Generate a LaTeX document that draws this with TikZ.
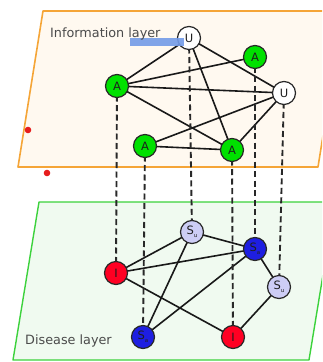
\documentclass[tikz,border=0pt]{standalone}
\usepackage{fontspec}
\setsansfont{DejaVu Sans}
\newfontfamily\layerfont{DejaVu Sans}
\definecolor{infoline}{RGB}{245,165,55}
\definecolor{infofill}{RGB}{255,249,240}
\definecolor{disline}{RGB}{60,210,60}
\definecolor{disfill}{RGB}{240,250,240}
\definecolor{outline}{RGB}{40,40,40}
\definecolor{labeltext}{RGB}{30,30,30}
\definecolor{awaregreen}{RGB}{0,225,0}
\definecolor{infred}{RGB}{255,0,35}
\definecolor{susblue}{RGB}{30,30,225}
\definecolor{suslav}{RGB}{205,205,245}
\definecolor{linkcol}{RGB}{25,25,25}
\definecolor{couplecol}{RGB}{40,40,40}
\definecolor{captiongray}{RGB}{75,75,75}
\definecolor{straydot}{RGB}{230,30,30}
\definecolor{marker}{RGB}{115,155,232}
\begin{document}
\begin{tikzpicture}[x=1pt,y=-1pt,
  agent/.style={circle,draw=outline,line width=1.2pt,minimum size=23pt,inner sep=0pt,
    font=\sffamily\fontsize{11.5}{11.5}\selectfont,text=labeltext},
  aware/.style={agent,fill=awaregreen},
  unaware/.style={agent,fill=white},
  infected/.style={agent,fill=infred},
  susaware/.style={agent,fill=susblue},
  susunaware/.style={agent,fill=suslav},
  link/.style={line width=1.6pt,draw=linkcol},
  couple/.style={line width=1.9pt,draw=couplecol,dash pattern=on 6pt off 3.5pt},
  layertext/.style={anchor=west,inner sep=0pt,text=captiongray,
    font=\layerfont\fontsize{12.8}{13}\selectfont},
  stray/.style={fill=straydot,draw=none}
]
\useasboundingbox (0,0) rectangle (322,362);
\clip (0,0) rectangle (322,362);

% layer planes
\filldraw[fill=infofill,draw=infoline,line width=1.6pt,line join=round]
  (43,11) -- (343,11) -- (318,167) -- (18,167) -- cycle;
\filldraw[fill=disfill,draw=disline,line width=1.4pt,line join=round]
  (39,202) -- (335,202) -- (309,360) -- (13,360) -- cycle;

% agent positions
\coordinate (pu1) at (189,38);
\coordinate (pa1) at (255,57);
\coordinate (pa2) at (117,86);
\coordinate (pu2) at (284,93);
\coordinate (pa3) at (145,146);
\coordinate (pa4) at (232,150);
\coordinate (ps1) at (192,232);
\coordinate (ps2) at (255,249);
\coordinate (pi1) at (116,273);
\coordinate (ps3) at (279,287);
\coordinate (ps4) at (143,337);
\coordinate (pi2) at (233,337);

% information layer links
\draw[link] (pu1) -- (pa2);
\draw[link] (pu1) -- (pu2);
\draw[link] (pu1) -- (pa4);
\draw[link] (pa1) -- (pa2);
\draw[link] (pa2) -- (pu2);
\draw[link] (pa2) -- (pa4);
\draw[link] (pu2) -- (pa3);
\draw[link] (pu2) -- (pa4);
\draw[link] (pa3) -- (pa4);

% disease layer links
\draw[link] (ps1) -- (pi1);
\draw[link] (ps1) -- (ps2);
\draw[link] (ps1) -- (ps4);
\draw[link] (pi1) -- (ps2);
\draw[link] (pi1) -- (pi2);
\draw[link] (ps2) -- (ps3);
\draw[link] (ps2) -- (ps4);
\draw[link] (ps3) -- (pi2);

% inter-layer coupling of each individual
\draw[couple] (pu1) -- (ps1);
\draw[couple] (pa1) -- (ps2);
\draw[couple] (pa2) -- (pi1);
\draw[couple] (pu2) -- (ps3);
\draw[couple] (pa3) -- (ps4);
\draw[couple] (pa4) -- (pi2);

% information layer agents
\node[unaware]  (u1) at (pu1) {U};
\node[aware]    (a1) at (pa1) {A};
\node[aware]    (a2) at (pa2) {A};
\node[unaware]  (u2) at (pu2) {U};
\node[aware]    (a3) at (pa3) {A};
\node[aware]    (a4) at (pa4) {A};

% disease layer agents
\newcommand{\susc}[1]{S\raisebox{-3.5pt}{\fontsize{5.5}{5.5}\selectfont #1}}
\node[susunaware] (s1) at (ps1) {\susc{u}};
\node[susaware]   (s2) at (ps2) {\susc{a}};
\node[infected]   (i1) at (pi1) {I};
\node[susunaware] (s3) at (ps3) {\susc{u}};
\node[susaware]   (s4) at (ps4) {\susc{a}};
\node[infected]   (i2) at (pi2) {I};

% highlight bar under the caption
\fill[marker,opacity=0.9] (130,38) rectangle (184,46);

% layer captions
\node[layertext] (infocap) at (50,34) {Information layer};
\node[layertext] (discap) at (25,341) {Disease layer};

% stray dots
\fill[stray] (28,130) circle (3.3);
\fill[stray] (47,173) circle (3.3);
\end{tikzpicture}
\end{document}
